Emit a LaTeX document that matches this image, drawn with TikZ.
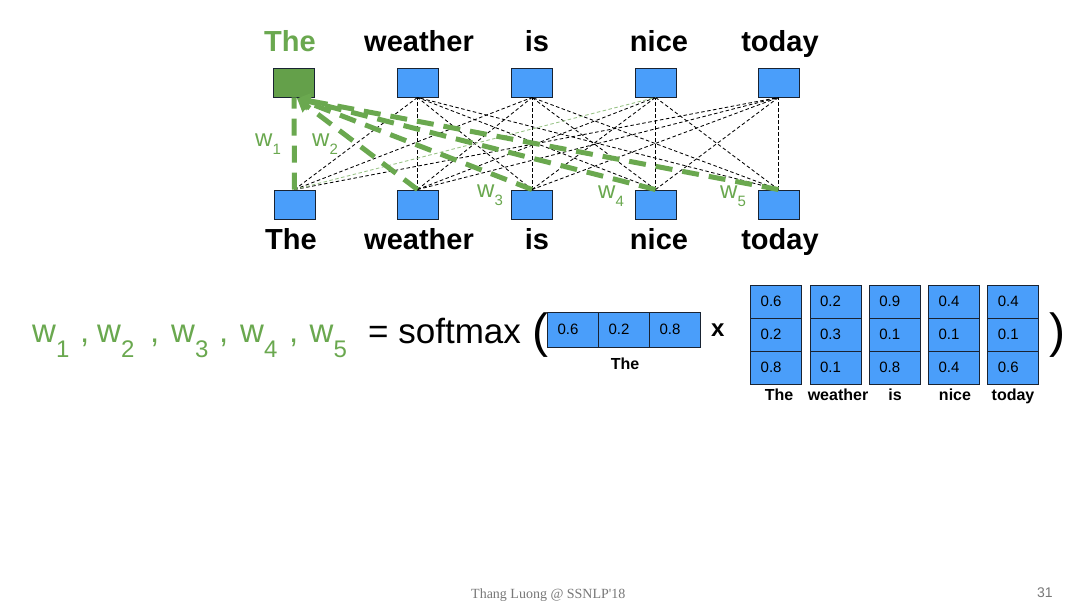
\documentclass[tikz,border=0pt]{standalone}
\usepackage{fontspec}
\setmainfont{Liberation Sans}
\newfontfamily\footserif{Liberation Serif}
\usetikzlibrary{arrows.meta}
\definecolor{boxblue}{RGB}{74,158,250}
\definecolor{gr}{RGB}{106,168,79}
\definecolor{grbox}{RGB}{100,160,74}
\definecolor{edgec}{RGB}{25,35,50}
\definecolor{footgray}{RGB}{120,120,120}
\newcommand{\setfs}[1]{\fontsize{#1}{#1}\selectfont}
\tikzset{
  wbox/.style={draw=edgec, line width=0.9pt, fill=boxblue, minimum width=41pt, minimum height=29pt, inner sep=0pt},
  word/.style={font=\setfs{29}\bfseries, inner sep=0pt, anchor=base},
  bedge/.style={draw=black, line width=0.85pt, dash pattern=on 3.5pt off 2.5pt},
  ledge/.style={draw=gr!70, line width=0.85pt, dash pattern=on 3.5pt off 2.5pt},
  gedge/.style={draw=gr, line width=5pt, dash pattern=on 17pt off 10pt},
  wlab/.style={font=\setfs{24}, text=gr, inner sep=0pt, anchor=base west},
  flab/.style={font=\setfs{33}, text=gr, inner sep=0pt, anchor=base west},
  cell/.style={draw=edgec, fill=boxblue, line width=0.9pt, inner xsep=10pt, inner ysep=0pt, text width=31pt, align=left, font=\setfs{15}},
  vcell/.style={cell, minimum height=35pt},
  mcell/.style={cell, minimum height=33pt},
  clab/.style={font=\setfs{16}\bfseries, inner sep=0pt, anchor=base},
}
\begin{document}
\begin{tikzpicture}[x=1pt,y=-1pt]
\fill[white] (0,0) rectangle (1080,607);
\useasboundingbox (0,0) rectangle (1080,607);

% top words
\node[word, text=gr] (tw1) at (290,52) {The};
\node[word] (tw2) at (419,52) {weather};
\node[word] (tw3) at (537,52) {is};
\node[word] (tw4) at (659,52) {nice};
\node[word] (tw5) at (780,52) {today};
% bottom words
\node[word] (bw1) at (291,249) {The};
\node[word] (bw2) at (419,249) {weather};
\node[word] (bw3) at (537,249) {is};
\node[word] (bw4) at (659,249) {nice};
\node[word] (bw5) at (780,249) {today};

% boxes
\node[wbox, fill=grbox] (t1) at (294,82.5) {};
\node[wbox] (t2) at (417.5,82.5) {};
\node[wbox] (t3) at (532,82.5) {};
\node[wbox] (t4) at (655.5,82.5) {};
\node[wbox] (t5) at (778.5,82.5) {};
\node[wbox] (b1) at (294.5,204.5) {};
\node[wbox] (b2) at (417.5,204.5) {};
\node[wbox] (b3) at (532,204.5) {};
\node[wbox] (b4) at (655.5,204.5) {};
\node[wbox] (b5) at (778.5,204.5) {};

% thin dashed connections
\foreach \i in {2,...,5}{
  \foreach \j in {1,...,5}{
    \ifnum\i\j=41 \else
      \draw[bedge] (b\j.north) -- (t\i.south);
    \fi
  }
}
\draw[ledge] (b1.north) -- (t4.south);

% thick green attention connections
\draw[gedge] (b1.north) -- (t1.south);
\foreach \j in {2,...,5}{
  \draw[gedge, -{Triangle[length=13pt,width=15pt]}] (b\j.north) -- ([xshift=3pt,yshift=-1pt]t1.south);
}

% weight labels
\node[wlab] (w1) at (255,147) {w\raisebox{-8pt}{\setfs{15}1}};
\node[wlab] (w2) at (312,147) {w\raisebox{-8pt}{\setfs{15}2}};
\node[wlab] (w3) at (477,198) {w\raisebox{-8pt}{\setfs{15}3}};
\node[wlab] (w4) at (598,199) {w\raisebox{-8pt}{\setfs{15}4}};
\node[wlab] (w5) at (720,199) {w\raisebox{-8pt}{\setfs{15}5}};

% formula
\node[flab] (f1) at (32,342) {w\raisebox{-15pt}{\setfs{24}1}};
\node[flab] (c1) at (80,342) {,};
\node[flab] (f2) at (97,342) {w\raisebox{-15pt}{\setfs{24}2}};
\node[flab] (c2) at (150,342) {,};
\node[flab] (f3) at (171,342) {w\raisebox{-15pt}{\setfs{24}3}};
\node[flab] (c3) at (219,342) {,};
\node[flab] (f4) at (240,342) {w\raisebox{-15pt}{\setfs{24}4}};
\node[flab] (c4) at (289,342) {,};
\node[flab] (f5) at (309.5,342) {w\raisebox{-15pt}{\setfs{24}5}};
\node[font=\setfs{35}, inner sep=0pt, anchor=base west] (sm) at (368,343) {= softmax};
\node[font=\setfs{48}, inner sep=0pt, anchor=base west] (lp) at (532,347) {(};
\node[font=\setfs{48}, inner sep=0pt, anchor=base west] (rp) at (1049,347) {)};

% query vector
\node[vcell] (v1) at (573,329.5) {0.6};
\node[vcell] (v2) at (624,329.5) {0.2};
\node[vcell] (v3) at (675,329.5) {0.8};
\node[clab] (vl) at (625,369) {The};
\node[font=\setfs{24}\bfseries, inner sep=0pt, anchor=base west] (times) at (711,336) {x};

% key matrix
\node[mcell] (m11) at (776.2,301.5) {0.6};
\node[mcell] (m12) at (776.2,334.5) {0.2};
\node[mcell] (m13) at (776.2,367.5) {0.8};
\node[mcell] (m21) at (835.5,301.5) {0.2};
\node[mcell] (m22) at (835.5,334.5) {0.3};
\node[mcell] (m23) at (835.5,367.5) {0.1};
\node[mcell] (m31) at (894.8,301.5) {0.9};
\node[mcell] (m32) at (894.8,334.5) {0.1};
\node[mcell] (m33) at (894.8,367.5) {0.8};
\node[mcell] (m41) at (954.1,301.5) {0.4};
\node[mcell] (m42) at (954.1,334.5) {0.1};
\node[mcell] (m43) at (954.1,367.5) {0.4};
\node[mcell] (m51) at (1013.4,301.5) {0.4};
\node[mcell] (m52) at (1013.4,334.5) {0.1};
\node[mcell] (m53) at (1013.4,367.5) {0.6};
\node[clab] (ml1) at (779,400) {The};
\node[clab] (ml2) at (838,400) {weather};
\node[clab] (ml3) at (895,400) {is};
\node[clab] (ml4) at (955,400) {nice};
\node[clab] (ml5) at (1013,400) {today};

% footer
\node[font=\footserif\setfs{14}, text=footgray, inner sep=0pt, anchor=base west] (foot) at (471,598) {Thang Luong @ SSNLP'18};
\node[font=\setfs{14}, text=footgray, inner sep=0pt, anchor=base west] (pg) at (1037,597) {31};
\end{tikzpicture}
\end{document}
